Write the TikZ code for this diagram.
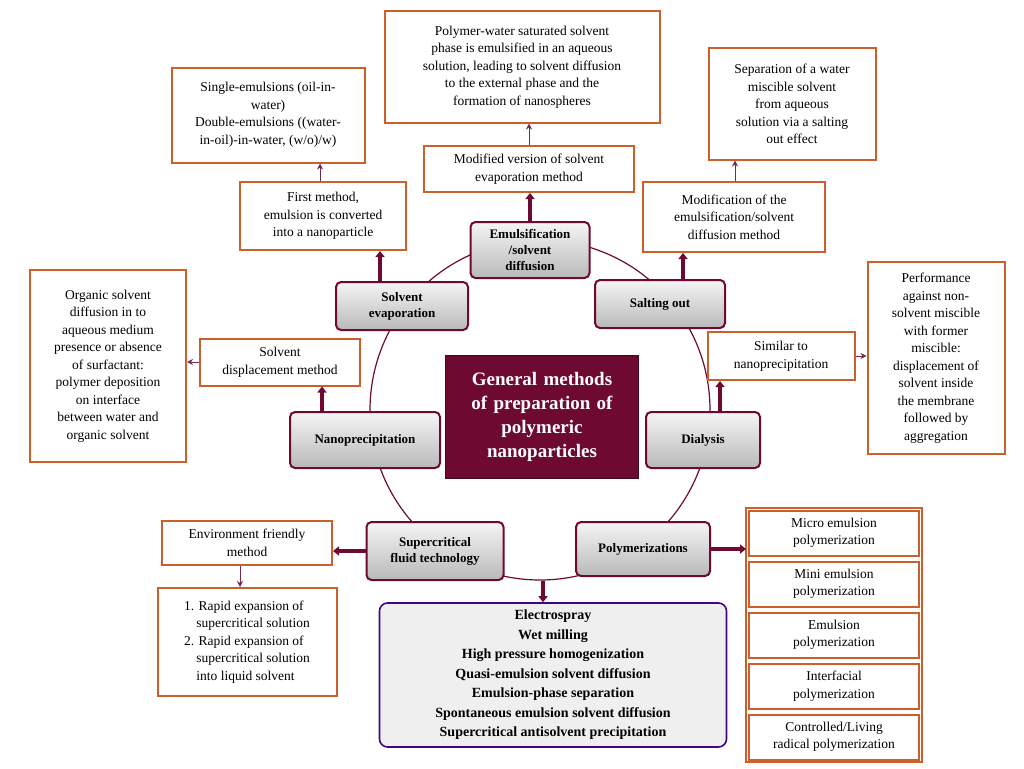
\documentclass[tikz,border=0pt]{standalone}
\usepackage{fontspec}
\setmainfont{Liberation Serif}
\usetikzlibrary{arrows.meta}
\definecolor{maroon}{RGB}{110,10,50}
\definecolor{ob}{RGB}{205,95,45}
\definecolor{thinarr}{RGB}{120,40,80}
\begin{document}
\begin{tikzpicture}[x=1pt,y=-1pt,
 outer/.style={draw=ob,line width=2pt,fill=white,align=center,inner sep=2pt,font=\fontsize{13.5}{17.5}\selectfont},
 meth/.style={draw=maroon,line width=2pt,rounded corners=5pt,top color=gray!8,bottom color=gray!55,align=center,font=\bfseries\fontsize{13}{16}\selectfont},
 thick arr/.style={-{Triangle[length=6pt,width=9pt]},line width=3.5pt,draw=maroon,fill=maroon},
 thin arr/.style={-{Stealth[length=6pt,width=6pt]},line width=0.9pt,draw=thinarr}]
\useasboundingbox (0,0) rectangle (1024,768);
\fill[white] (0,0) rectangle (1024,768);
\node[draw=maroon,line width=1.2pt,circle,minimum size=340pt] (circ) at (540,410) {};
\node[fill=maroon,draw=maroon!60!black,minimum width=190pt,minimum height=123pt,text width=186pt,align=center,text=white,font=\bfseries\fontsize{19}{24}\selectfont] (c) at (542,417) {General methods\\of preparation of\\polymeric\\nanoparticles};
% methods
\node[meth,minimum width=119pt,minimum height=56pt] (em) at (530,250) {Emulsification\\/solvent\\diffusion};
\node[meth,minimum width=132pt,minimum height=48pt] (se) at (402,306) {Solvent\\evaporation};
\node[meth,minimum width=130pt,minimum height=48pt] (so) at (660,304) {Salting out};
\node[meth,minimum width=150pt,minimum height=56pt] (np) at (365,440) {Nanoprecipitation};
\node[meth,minimum width=114pt,minimum height=56pt] (di) at (703,440) {Dialysis};
\node[meth,minimum width=137pt,minimum height=58pt] (sc) at (435,551) {Supercritical\\fluid technology};
\node[meth,minimum width=134pt,minimum height=54pt] (po) at (643,549) {Polymerizations};
\node[draw=maroon!60!blue,line width=1.6pt,rounded corners=8pt,fill=blue!4!gray!12,minimum width=347pt,minimum height=144pt,align=center,font=\bfseries\fontsize{14}{19.5}\selectfont] (bot) at (553,675) {Electrospray\\Wet milling\\High pressure homogenization\\Quasi-emulsion solvent diffusion\\Emulsion-phase separation\\Spontaneous emulsion solvent diffusion\\Supercritical antisolvent precipitation};
% outer
\node[outer,minimum width=193pt,minimum height=95pt] (o1) at (268,115) {Single-emulsions (oil-in-\\water)\\Double-emulsions ((water-\\in-oil)-in-water, (w/o)/w)};
\node[outer,minimum width=166pt,minimum height=68pt] (o2) at (323,216) {First method,\\emulsion is converted\\into a nanoparticle};
\node[outer,minimum width=275pt,minimum height=111pt] (o3) at (522,67) {Polymer-water saturated solvent\\phase is emulsified in an aqueous\\solution, leading to solvent diffusion\\to the external phase and the\\formation of nanospheres};
\node[outer,minimum width=210pt,minimum height=46pt] (o4) at (529,169) {Modified version of solvent\\evaporation method};
\node[outer,minimum width=167pt,minimum height=111pt] (o5) at (792,104) {Separation of a water\\miscible solvent\\from aqueous\\solution via a salting\\out effect};
\node[outer,minimum width=182pt,minimum height=70pt] (o6) at (734,217) {Modification of the\\emulsification/solvent\\diffusion method};
\node[outer,minimum width=156pt,minimum height=192pt] (o7) at (108,366) {Organic solvent\\diffusion in to\\aqueous medium\\presence or absence\\of surfactant:\\polymer deposition\\on interface\\between water and\\organic solvent};
\node[outer,minimum width=160pt,minimum height=47pt] (o8) at (280,362) {Solvent\\displacement method};
\node[outer,minimum width=147pt,minimum height=48pt] (o9) at (781,356) {Similar to\\nanoprecipitation};
\node[outer,minimum width=137pt,minimum height=192pt] (o10) at (936,358) {Performance\\against non-\\solvent miscible\\with former\\miscible:\\displacement of\\solvent inside\\the membrane\\followed by\\aggregation};
\node[outer,minimum width=170pt,minimum height=44pt] (o11) at (247,543) {Environment friendly\\method};
\node[outer,minimum width=179pt,minimum height=108pt,align=left] (o12) at (247,642) {1. Rapid expansion of\\\ \ \ \,supercritical solution\\2. Rapid expansion of\\\ \ \ \,supercritical solution\\\ \ \ \,into liquid solvent};
\foreach \n/\y/\t in {p1/533/{Micro emulsion\\polymerization},p2/584/{Mini emulsion\\polymerization},p3/635/{Emulsion\\polymerization},p4/686/{Interfacial\\polymerization},p5/737/{Controlled/Living\\radical polymerization}}
  \node[outer,minimum width=170pt,minimum height=45pt] (\n) at (834,\y) {\t};
\draw[ob,line width=2pt] (746,508) rectangle (922,762);
% arrows
\draw[thick arr] (se.north -| 380,0) -- (o2.south -| 380,0);
\draw[thin arr] (o2.north -| 320,0) -- (o1.south -| 320,0);
\draw[thick arr] (em.north) -- (em.north |- o4.south);
\draw[thin arr] (o4.north) -- (o4.north |- o3.south);
\draw[thick arr] (so.north -| 683,0) -- (o6.south -| 683,0);
\draw[thin arr] (o6.north -| 735,0) -- (o5.south -| 735,0);
\draw[thick arr] (np.north -| 322,0) -- (o8.south -| 322,0);
\draw[thin arr] (o8.west) -- (o7.east |- o8.west);
\draw[thick arr] (di.north -| 720,0) -- (o9.south -| 720,0);
\draw[thin arr] (o9.east) -- (o10.west |- o9.east);
\draw[thick arr] (sc.west) -- (o11.east |- sc.west);
\draw[thin arr] (o11.south -| 240,0) -- (o12.north -| 240,0);
\draw[thick arr] (po.east) -- (746,549);
\draw[thick arr] (circ.south -| 543,0) -- (bot.north -| 543,0);
\end{tikzpicture}
\end{document}
